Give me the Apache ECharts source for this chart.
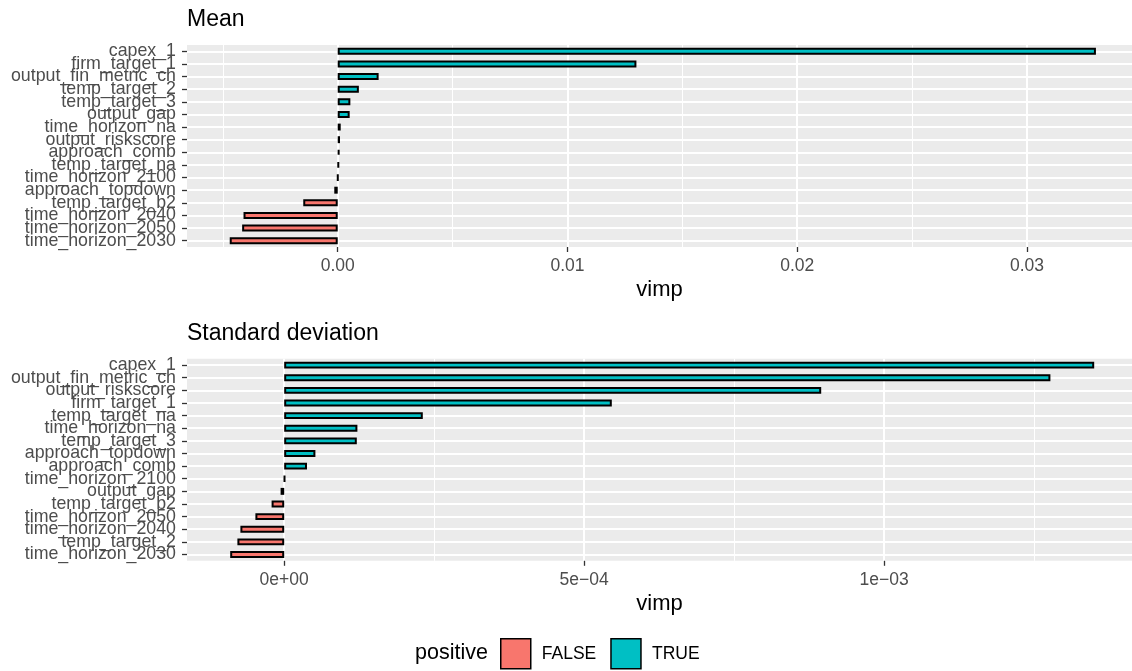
<!DOCTYPE html>
<html><head><meta charset="utf-8">
<script src="https://cdn.jsdelivr.net/npm/echarts@6/dist/echarts.min.js"></script>
<style>html,body{margin:0;padding:0;background:#fff}#c{width:1132px;height:671px}</style>
</head><body><div id="c"></div>
<script>
// ---- data ----
const meanCategories = ['capex_1','firm_target_1','output_fin_metric_ch','temp_target_2','temp_target_3','output_gap','time_horizon_na','output_riskscore','approach_comb','temp_target_na','time_horizon_2100','approach_topdown','temp_target_b2','time_horizon_2040','time_horizon_2050','time_horizon_2030'];
const meanValues = [0.0330, 0.0130, 0.00178, 0.00092, 0.00055, 0.00052, 0.00013, 0.00010, 0.00008, 0.00005, 0.000005, -0.00015, -0.00150, -0.00410, -0.00416, -0.00470];
const sdCategories = ['capex_1','output_fin_metric_ch','output_riskscore','firm_target_1','temp_target_na','time_horizon_na','temp_target_3','approach_topdown','approach_comb','time_horizon_2100','output_gap','temp_target_b2','time_horizon_2050','time_horizon_2040','temp_target_2','time_horizon_2030'];
const sdValues = [0.001350, 0.001277, 0.000895, 0.000546, 0.000231, 0.000122, 0.000121, 0.000052, 0.000038, 0.000001, -0.000006, -0.000021, -0.000048, -0.000073, -0.000078, -0.000090];
const meanTicks = [0, 0.01, 0.02, 0.03];
const meanTickLabels = ['0.00','0.01','0.02','0.03'];
const sdTicks = [0, 0.0005, 0.001];
const sdTickLabels = ['0e+00','5e\u221204','1e\u221203'];
const meanRange = [-0.00656, 0.03457];
const sdRange = [-0.000162, 0.001413];
const panelTitles = ['Mean', 'Standard deviation'];
const axisTitle = 'vimp';
const legendTitle = 'positive';
const legendLabels = ['FALSE', 'TRUE'];

// ---- style ----
const FONT = '"Liberation Sans", Arial, Helvetica, sans-serif';
const COLORS = {FALSE: '#F8766D', TRUE: '#00BFC4'};

function xAxisFor(gi, range, interval, ticks, labels) {
  return {
    type: 'value', gridIndex: gi, min: range[0], max: range[1],
    minInterval: interval, maxInterval: interval,
    name: axisTitle, nameLocation: 'middle', nameGap: 32,
    nameTextStyle: {fontFamily: FONT, fontSize: 22, color: '#000'},
    axisLine: {show: false, onZero: false},
    axisTick: {show: true, length: 5, customValues: ticks, lineStyle: {color: '#333333', width: 1.3}},
    axisLabel: {customValues: ticks, margin: 10, fontFamily: FONT, fontSize: 17.5, color: '#4D4D4D',
      formatter: v => { const i = ticks.findIndex(t => Math.abs(t - v) < 1e-12); return i >= 0 ? labels[i] : ''; }},
    splitLine: {show: true, lineStyle: {color: '#FFFFFF', width: 2}},
    minorTick: {show: false, splitNumber: 2},
    minorSplitLine: {show: true, lineStyle: {color: '#FFFFFF', width: 1}}
  };
}
function yAxisFor(gi, cats) {
  return {
    type: 'category', gridIndex: gi, data: cats, inverse: true,
    axisLine: {show: false, onZero: false},
    axisTick: {show: true, alignWithLabel: true, length: 5, lineStyle: {color: '#333333', width: 1.3}},
    axisLabel: {interval: 0, margin: 11, fontFamily: FONT, fontSize: 17.8, color: '#4D4D4D'},
    splitLine: {show: false}
  };
}
// hidden value axis whose grid lines sit on the category centres (as in ggplot)
function yGridAxisFor(gi, cats) {
  const idx = cats.map((_, i) => i);
  return {
    type: 'value', gridIndex: gi, inverse: true, min: -0.5, max: cats.length - 0.5,
    minInterval: 1, maxInterval: 1, position: 'left',
    axisLine: {show: false, onZero: false},
    axisTick: {show: false, customValues: idx},
    axisLabel: {show: false, customValues: idx},
    splitLine: {show: true, lineStyle: {color: '#FFFFFF', width: 2}}
  };
}
function seriesFor(gi, values) {
  return legendLabels.map(lab => ({
    name: lab, type: 'bar', xAxisIndex: gi, yAxisIndex: gi,
    barWidth: '55%', barGap: '-100%',
    itemStyle: {color: COLORS[lab], borderColor: '#000', borderWidth: 2},
    data: values.map(v => ((v >= 0) === (lab === 'TRUE')) ? v : '-')
  }));
}

const chart = echarts.init(document.getElementById('c'), null, {renderer: 'canvas'});
chart.setOption({
  animation: false,
  backgroundColor: '#FFFFFF',
  title: [
    {text: panelTitles[0], left: 187, top: 8, padding: 0, textStyle: {fontFamily: FONT, fontSize: 23, fontWeight: 'normal', color: '#000'}},
    {text: panelTitles[1], left: 187, top: 322, padding: 0, textStyle: {fontFamily: FONT, fontSize: 23, fontWeight: 'normal', color: '#000'}},
    {text: legendTitle, left: 415, top: 642, padding: 0, textStyle: {fontFamily: FONT, fontSize: 21.5, fontWeight: 'normal', color: '#000'}}
  ],
  legend: {
    data: legendLabels, left: 500, top: 638, padding: 0, itemWidth: 30, itemHeight: 30, itemGap: 14,
    icon: 'rect',
    itemStyle: {borderColor: '#000', borderWidth: 1.5},
    textStyle: {fontFamily: FONT, fontSize: 17.5, color: '#000', padding: [0, 0, 0, 6]}
  },
  grid: [
    {left: 187, right: 0, top: 45, height: 202, show: true, backgroundColor: '#EBEBEB', borderWidth: 0},
    {left: 187, right: 0, top: 358.8, height: 202, show: true, backgroundColor: '#EBEBEB', borderWidth: 0}
  ],
  xAxis: [xAxisFor(0, meanRange, 0.01, meanTicks, meanTickLabels), xAxisFor(1, sdRange, 0.0005, sdTicks, sdTickLabels)],
  yAxis: [yAxisFor(0, meanCategories), yAxisFor(1, sdCategories), yGridAxisFor(0, meanCategories), yGridAxisFor(1, sdCategories)],
  series: [...seriesFor(0, meanValues), ...seriesFor(1, sdValues)]
});
</script></body></html>
